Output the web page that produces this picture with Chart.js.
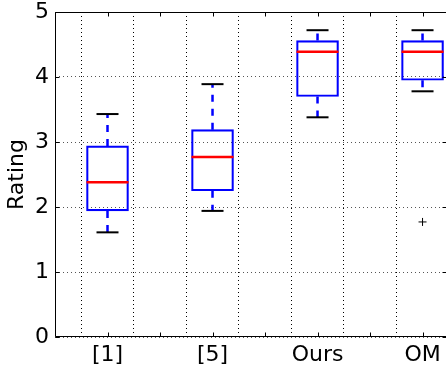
<!DOCTYPE html>
<html>
<head>
<meta charset="utf-8">
<script src="https://cdn.jsdelivr.net/npm/chart.js@4/dist/chart.umd.min.js"></script>
<style>
  html, body { margin: 0; padding: 0; background: #fff; overflow: hidden; }
  #wrap { position: relative; width: 452px; height: 370px; }
</style>
</head>
<body>
<div id="wrap"><canvas id="c"></canvas></div>
<script>
// ---- data ----
const categories   = ['[1]', '[5]', 'Ours', 'OM'];
const whiskerLow   = [1.61, 1.94, 3.38, 3.78];
const q1           = [1.94, 2.25, 3.70, 3.95];
const median       = [2.38, 2.77, 4.39, 4.39];
const q3           = [2.94, 3.19, 4.56, 4.56];
const whiskerHigh  = [3.43, 3.89, 4.72, 4.72];
const outliers     = [[], [], [], [1.77]];
const xTickValues  = [0.5, 1, 1.5, 2, 2.5, 3, 3.5, 4];
const yTickValues  = [0, 1, 2, 3, 4, 5];
const yLabel       = 'Rating';

const FONT = "'DejaVu Sans', sans-serif";
const pos = i => i + 1;

const boxData = categories.map((c, i) => ({ x: pos(i), y: [q1[i], q3[i]] }));
const medData = categories.map((c, i) => ({ x: pos(i), y: median[i] }));
const capData = [];
categories.forEach((c, i) => { capData.push({ x: pos(i), y: whiskerLow[i] }); capData.push({ x: pos(i), y: whiskerHigh[i] }); });
const whiskData = [];
categories.forEach((c, i) => {
  whiskData.push({ x: pos(i), y: q3[i] }, { x: pos(i), y: whiskerHigh[i] }, { x: pos(i), y: null });
  whiskData.push({ x: pos(i), y: q1[i] }, { x: pos(i), y: whiskerLow[i] }, { x: pos(i), y: null });
});
const outData = [];
outliers.forEach((arr, i) => arr.forEach(v => outData.push({ x: pos(i), y: v })));

const framePlugin = {
  id: 'frame',
  afterDraw(chart) {
    const { ctx, chartArea: a, scales: { x, y } } = chart;
    ctx.save();
    ctx.strokeStyle = '#000';
    ctx.lineWidth = 1;
    ctx.setLineDash([]);
    const L = Math.round(a.left) + 0.5, R = Math.round(a.right) - 0.5;
    const T = Math.round(a.top) + 0.5, B = Math.round(a.bottom) - 0.5;
    ctx.beginPath();
    ctx.rect(L, T, R - L, B - T);
    const tl = 4;
    yTickValues.forEach(v => {
      const py = Math.round(y.getPixelForValue(v)) + 0.5;
      ctx.moveTo(L, py); ctx.lineTo(L + tl, py);
      ctx.moveTo(R, py); ctx.lineTo(R - tl, py);
    });
    xTickValues.forEach(v => {
      const px = Math.round(x.getPixelForValue(v)) + 0.5;
      ctx.moveTo(px, T); ctx.lineTo(px, T + tl);
      ctx.moveTo(px, B); ctx.lineTo(px, B - tl);
    });
    ctx.stroke();
    ctx.restore();
  }
};

const zeroPad = s => { s.paddingTop = 0; s.paddingBottom = 0; s.paddingLeft = 0; s.paddingRight = 0; };

new Chart(document.getElementById('c'), {
  type: 'bar',
  data: {
    datasets: [
      { type: 'line', data: whiskData, borderColor: '#0000ff', borderWidth: 2.5, borderDash: [7, 7],
        pointRadius: 0, spanGaps: false, fill: false, order: 5 },
      { type: 'bar', data: boxData, borderColor: '#0000ff', backgroundColor: 'rgba(0,0,0,0)',
        borderWidth: 1.5, borderSkipped: false, barThickness: 42, order: 4 },
      { type: 'scatter', data: capData, pointStyle: 'line', pointRadius: 11, borderColor: '#000',
        borderWidth: 2, order: 3 },
      { type: 'scatter', data: medData, pointStyle: 'line', pointRadius: 21, borderColor: '#ff0000',
        borderWidth: 2.5, order: 2 },
      { type: 'scatter', data: outData, pointStyle: 'cross', pointRadius: 4, borderColor: '#000',
        borderWidth: 1, order: 1 }
    ]
  },
  options: {
    responsive: true,
    maintainAspectRatio: false,
    animation: false,
    events: [],
    layout: { autoPadding: false, padding: { top: 12, right: 5, left: 0, bottom: 0 } },
    plugins: { legend: { display: false }, tooltip: { enabled: false } },
    scales: {
      x: {
        type: 'linear', min: 0.5, max: 4.233, offset: false,
        afterBuildTicks: s => { s.ticks = xTickValues.map(v => ({ value: v })); },
        afterFit: s => { s.height = 33; zeroPad(s); },
        grid: { color: '#000', lineWidth: 1, drawTicks: false },
        border: { display: false, dash: [1, 3] },
        ticks: {
          autoSkip: false, maxRotation: 0, padding: 5, color: '#000',
          font: { family: FONT, size: 22 },
          callback: v => (Number.isInteger(v) && categories[v - 1] !== undefined) ? categories[v - 1] : ''
        }
      },
      y: {
        type: 'linear', min: 0, max: 5,
        afterBuildTicks: s => { s.ticks = yTickValues.map(v => ({ value: v })); },
        afterFit: s => { s.width = 55; zeroPad(s); },
        grid: { color: '#555', lineWidth: 1, drawTicks: false },
        border: { display: false, dash: [1, 3] },
        ticks: { padding: 6, color: '#000', font: { family: FONT, size: 22 } },
        title: { display: true, text: yLabel, color: '#000', font: { family: FONT, size: 22 },
                 padding: { top: 4, bottom: 0 } }
      }
    }
  },
  plugins: [framePlugin]
});
</script>
</body>
</html>
